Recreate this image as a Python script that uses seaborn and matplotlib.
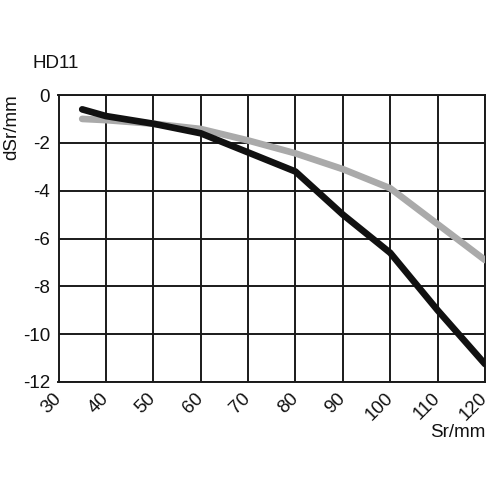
import matplotlib
matplotlib.use("Agg")
import matplotlib.pyplot as plt
import seaborn as sns
import pandas as pd

black_x = [35, 40, 50, 60, 70, 80, 90, 100, 110, 120]
black_y = [-0.6, -0.88, -1.2, -1.6, -2.4, -3.2, -5.0, -6.6, -9.0, -11.25]
gray_x = [35, 40, 50, 60, 70, 80, 90, 100, 110, 120]
gray_y = [-1.0, -1.05, -1.2, -1.42, -1.9, -2.44, -3.1, -3.9, -5.4, -6.9]
x_ticks = [30, 40, 50, 60, 70, 80, 90, 100, 110, 120]
y_ticks = [0, -2, -4, -6, -8, -10, -12]

sns.set_style("white")
plt.rcParams['font.family'] = ['Liberation Sans', 'DejaVu Sans']
plt.rcParams['text.color'] = '#111111'
plt.rcParams['xtick.color'] = '#111111'
plt.rcParams['ytick.color'] = '#111111'
plt.rcParams['xtick.labelcolor'] = '#111111'
plt.rcParams['ytick.labelcolor'] = '#111111'
FS = 13.5

fig = plt.figure(figsize=(5, 5), dpi=100)
ax = fig.add_axes([0.117, 0.236, 0.853, 0.574])

df_b = pd.DataFrame({"x": black_x, "y": black_y})
df_g = pd.DataFrame({"x": gray_x, "y": gray_y})
sns.lineplot(data=df_g, x="x", y="y", ax=ax, color="#aaaaaa", linewidth=4.8, zorder=3)
sns.lineplot(data=df_b, x="x", y="y", ax=ax, color="#111111", linewidth=4.8, zorder=4)

ax.set_xlim(30, 120)
ax.set_ylim(-12, 0)
ax.set_xticks(x_ticks)
ax.set_yticks(y_ticks)
ax.set_yticklabels([str(v) for v in y_ticks], fontsize=FS)
ax.set_xticklabels([str(v) for v in x_ticks], fontsize=FS, rotation=45,
                   ha="right", va="center", rotation_mode="anchor")
ax.tick_params(axis="both", length=0, pad=6, labelcolor="#111111")
ax.tick_params(axis="x", pad=10)
ax.grid(True, color="#1a1a1a", linewidth=1.4)
for s in ax.spines.values():
    s.set_visible(True)
    s.set_color("#1a1a1a")
    s.set_linewidth(1.4)
ax.set_xlabel("")
ax.set_ylabel("")

fig.text(0.066, 0.872, "HD11", fontsize=FS, ha="left", va="center", color="#111111")
fig.text(0.024, 0.746, "dSr/mm", fontsize=FS, ha="center", va="center", rotation=90, color="#111111")
fig.text(0.97, 0.135, "Sr/mm", fontsize=FS, ha="right", va="center", color="#111111")

fig.savefig("out.png", dpi=100)
